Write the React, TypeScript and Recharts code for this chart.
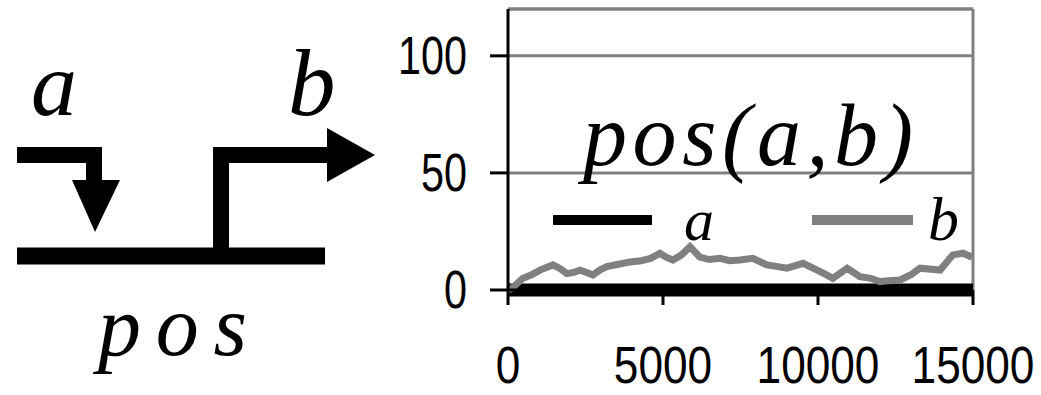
import { LineChart, Line, XAxis, YAxis, CartesianGrid, ReferenceLine } from "recharts";

// x positions (iterations) and values
const bSteps = [
  0, 130, 480, 760, 1030, 1450, 1700, 1900, 2120, 2320, 2540, 2740, 2960, 3190,
  3560, 3940, 4300, 4600, 4900, 5100, 5320, 5600, 5870, 6190, 6500, 6840, 7150,
  7480, 7900, 8350, 8700, 9000, 9520, 9970, 10200, 10480, 10940, 11350, 11700,
  12000, 12300, 12650, 13000, 13290, 13940, 14350, 14680, 14970,
];
const bValues = [
  0, 0.7, 5, 6.5, 8.5, 10.7, 9, 7, 7.5, 8.5, 7.5, 6.4, 8.5, 10, 11, 12, 12.5,
  13.5, 15.7, 14, 12.8, 15, 18.5, 14, 13, 13.5, 12.5, 12.8, 13.5, 10.7, 10, 9.3,
  11.4, 8.5, 7, 5, 9.3, 5.7, 5, 3.6, 4, 4.3, 6.5, 9.3, 8.5, 15, 15.7, 14,
];
const aSteps = [0, 15000];
const aValues = [0, 0];

const xTicks = [0, 5000, 10000, 15000];
const yTicks = [0, 50, 100];

const bData = bSteps.map((x, i) => ({ x, b: bValues[i] }));
const aData = aSteps.map((x, i) => ({ x, a: aValues[i] }));

const GRAY = "#808080";
const SANS = "'Liberation Sans', Arial, sans-serif";
const SERIF = "'Liberation Serif', 'Times New Roman', serif";

function YTick({ x, y, payload }: any) {
  return (
    <text
      transform={`translate(${x},${y}) scale(0.78,1)`}
      textAnchor="end"
      dominantBaseline="central"
      fontSize={53}
      fontFamily={SANS}
      fill="#000"
    >
      {payload.value}
    </text>
  );
}

// labels sit low under the plot, baseline near the page bottom
function XTick({ x, y, payload }: any) {
  return (
    <text
      transform={`translate(${x},${y}) scale(0.85,1)`}
      textAnchor="middle"
      fontSize={52}
      fontFamily={SANS}
      fill="#000"
    >
      {payload.value}
    </text>
  );
}

export default function App() {
  return (
    <div style={{ position: "absolute", left: 0, top: 0, width: 1041, height: 395, background: "#fff" }}>
      <LineChart width={1041} height={395} margin={{ top: 9, right: 68, bottom: 0, left: 0 }}>
        <CartesianGrid horizontal vertical={false} stroke={GRAY} strokeWidth={3} />
        <XAxis
          dataKey="x"
          type="number"
          domain={[0, 15000]}
          ticks={xTicks}
          height={105}
          tickSize={15}
          tickMargin={78}
          axisLine={{ stroke: "#000", strokeWidth: 3 }}
          tickLine={{ stroke: "#000", strokeWidth: 3 }}
          tick={<XTick />}
          allowDuplicatedCategory={false}
        />
        <YAxis
          type="number"
          domain={[0, 120]}
          ticks={yTicks}
          width={508}
          tickSize={18}
          tickMargin={23}
          axisLine={{ stroke: "#000", strokeWidth: 3 }}
          tickLine={{ stroke: "#000", strokeWidth: 3 }}
          tick={<YTick />}
        />
        <ReferenceLine y={120} stroke={GRAY} strokeWidth={3} />
        <ReferenceLine x={15000} stroke={GRAY} strokeWidth={3} />
        <Line data={aData} dataKey="a" stroke="#000" strokeWidth={13} dot={false} isAnimationActive={false} />
        <Line data={bData} dataKey="b" stroke={GRAY} strokeWidth={7} dot={false} isAnimationActive={false} />
      </LineChart>

      <svg
        width={1041}
        height={395}
        style={{ position: "absolute", left: 0, top: 0, pointerEvents: "none" }}
      >
        {/* title and legend */}
        <text x={583} y={165} fontSize={88} fontStyle="italic" fontFamily={SERIF} textLength={330} lengthAdjust="spacing">
          pos(a,b)
        </text>
        <line x1={553} y1={220} x2={652} y2={220} stroke="#000" strokeWidth={10} />
        <text x={684} y={240} fontSize={60} fontStyle="italic" fontFamily={SERIF}>a</text>
        <line x1={812} y1={220} x2={913} y2={220} stroke={GRAY} strokeWidth={10} />
        <text x={928} y={240} fontSize={62} fontStyle="italic" fontFamily={SERIF}>b</text>

        {/* diagram on the left */}
        <text x={31} y={115} fontSize={92} fontStyle="italic" fontFamily={SERIF}>a</text>
        <text x={288} y={115} fontSize={95} fontStyle="italic" fontFamily={SERIF}>b</text>
        <polyline points="17,155 94,155 94,186" fill="none" stroke="#000" strokeWidth={16} />
        <polygon points="72,180 120,180 95,232" fill="#000" />
        <line x1={17} y1={256} x2={325} y2={256} stroke="#000" strokeWidth={17} />
        <polyline points="221,256 221,155 330,155" fill="none" stroke="#000" strokeWidth={16} />
        <polygon points="327,128 327,182 375,155" fill="#000" />
        <text x={98} y={355} fontSize={86} fontStyle="italic" fontFamily={SERIF} textLength={149} lengthAdjust="spacing">
          pos
        </text>
      </svg>
    </div>
  );
}
